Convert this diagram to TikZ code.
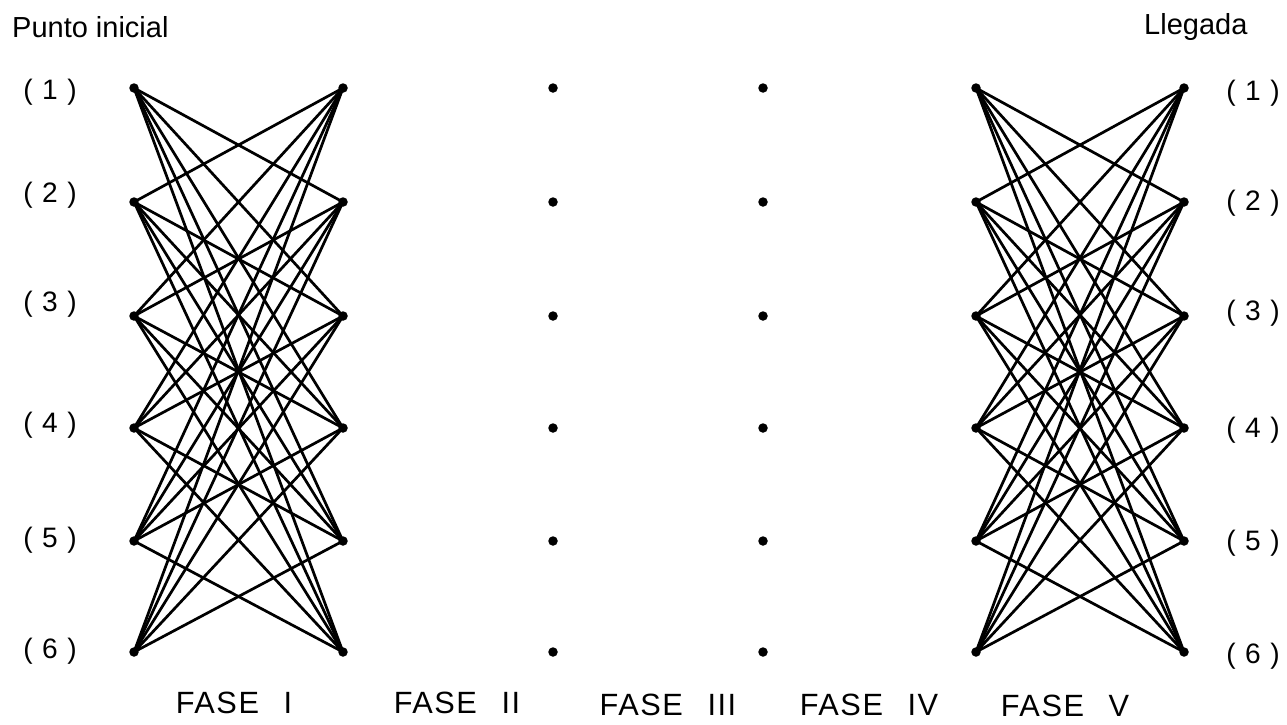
\documentclass[tikz,border=0pt]{standalone}
\usepackage{fontspec}
\setmainfont{Liberation Sans}
\newfontfamily\phasefont[LetterSpace=5]{Liberation Sans}
\newfontfamily\statefont[LetterSpace=6]{Liberation Sans}
\usetikzlibrary{positioning}

\begin{document}
\begin{tikzpicture}[x=0.02cm,y=-0.02cm,
    vtx/.style={circle,fill=black,inner sep=0pt,minimum size=0.19cm},
    edge/.style={line width=1.55pt},
    rowlbl/.style={font=\statefont\fontsize{16}{19}\selectfont},
    phaselbl/.style={font=\phasefont\fontsize{17.5}{21}\selectfont},
    headlbl/.style={font=\fontsize{16.5}{20}\selectfont,anchor=west}]

    \useasboundingbox (0,0) rectangle (1287,724);

    % six stages, six states each
    \foreach \c/\x in {1/134,2/343,3/553,4/763,5/976,6/1184}
      \foreach \r/\y in {1/88,2/202,3/316,4/428,5/541,6/652}
        \node[vtx] (c\c r\r) at (\x,\y) {};

    % state labels
    \foreach \r/\y/\z in {1/92/93,2/195/203,3/304/313,4/425/430,5/540/543,6/651/656} {
      \node[rowlbl] (lft\r) at (50,\y) {( \r\ )};
      \node[rowlbl] (rgt\r) at (1253,\z) {( \r\ )};
    }

    \node[headlbl] (start) at (6,27) {Punto inicial};
    \node[headlbl] (goal) at (1138,27) {Llegada};

    % transitions in first and last phase
    \foreach \i in {1,...,6}
      \foreach \j in {1,...,6} {
        \ifnum\i=\j\else
          \draw[edge] (c1r\i.center) -- (c2r\j.center);
          \draw[edge] (c5r\i.center) -- (c6r\j.center);
        \fi
      }

    % phases
    \node[phaselbl] (f1) at (234,703) {FASE\hspace{14pt}I};
    \node[phaselbl] (f2) at (457,703) {FASE\hspace{14pt}II};
    \node[phaselbl] (f3) at (668,705) {FASE\hspace{14pt}III};
    \node[phaselbl] (f4) at (869,705) {FASE\hspace{14pt}IV};
    \node[phaselbl] (f5) at (1065,706) {FASE\hspace{14pt}V};
\end{tikzpicture}
\end{document}
